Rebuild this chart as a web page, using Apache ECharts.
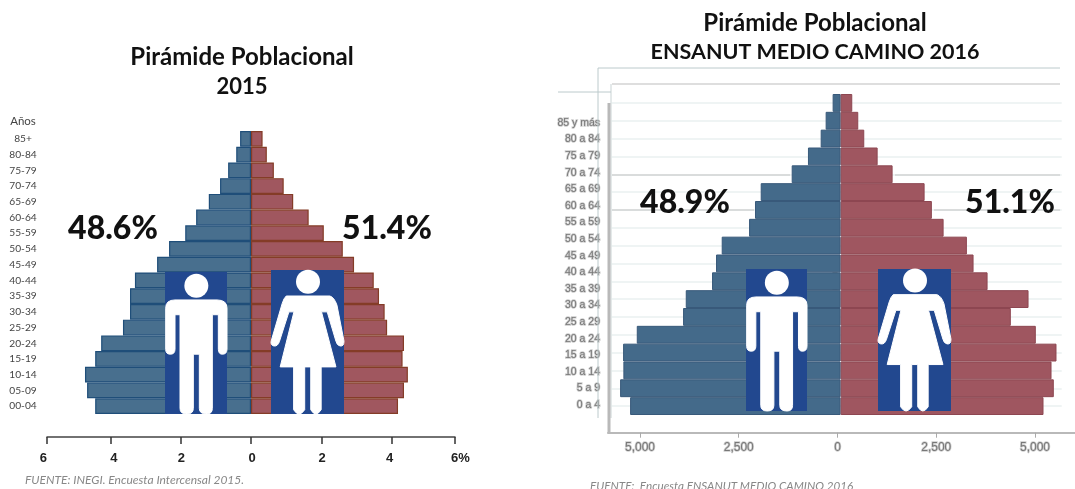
<!DOCTYPE html>
<html>
<head>
<meta charset="utf-8">
<style>
  html, body { margin: 0; padding: 0; background: #fff; }
  #chart { width: 1075px; height: 489px; }
</style>
</head>
<body>
<div id="chart"></div>
<script src="https://cdn.jsdelivr.net/npm/echarts@6/dist/echarts.min.js"></script>
<script>
// 2015 (INEGI), percent of population
const ages2015 = ["85+", "80-84", "75-79", "70-74", "65-69", "60-64", "55-59", "50-54", "45-49", "40-44", "35-39", "30-34", "25-29", "20-24", "15-19", "10-14", "05-09", "00-04"];
const men2015 = [0.31, 0.42, 0.65, 0.88, 1.2, 1.56, 1.87, 2.33, 2.67, 3.3, 3.44, 3.44, 3.64, 4.26, 4.43, 4.72, 4.66, 4.43];
const women2015 = [0.33, 0.45, 0.65, 0.93, 1.2, 1.64, 2.07, 2.61, 2.93, 3.49, 3.64, 3.8, 3.87, 4.35, 4.31, 4.46, 4.35, 4.18];
const ticks2015 = [-5.8, -4, -2, 0, 2, 4, 5.8];
const labelSpots2015 = [-5.8, -3.9, -1.98, 0.03, 2.02, 3.94, 5.8];
// the spaces push the end labels outwards, they sit off their ticks in the picture
const tickLabels2015 = ["6  ", "4", "2", "0", "2", "4", "   6%"];

// 2016 (ENSANUT)
const ages2016 = ["85 y más", "80 a 84", "75 a 79", "70 a 74", "65 a 69", "60 a 64", "55 a 59", "50 a 54", "45 a 49", "40 a 44", "35 a 39", "30 a 34", "25 a 29", "20 a 24", "15 a 19", "10 a 14", "5 a 9", "0 a 4"];
const men2016 = [203, 380, 506, 828, 1240, 2025, 2170, 2320, 3013, 3157, 3258, 3924, 3992, 5165, 5511, 5504, 5587, 5334];
const women2016 = [294, 446, 598, 937, 1316, 2127, 2311, 2608, 3198, 3367, 3722, 4760, 4311, 4944, 5468, 5342, 5400, 5139];
const ticks2016 = [-5000, -2500, 0, 2500, 5000];

const font = "Lato";
const man = "M2,110Q2,85 30,85L156,85Q186,85 186,110L186,235Q186,250 172,250Q160,250 160,235L160,130L142,130L142,415Q142,432 125,432Q103,432 103,415L103,250L85,250L85,415Q85,432 65,432Q45,432 45,415L45,130L30,130L30,235Q30,250 16,250Q2,250 2,235Z";
const woman = "M47,78L177,78Q190,82 198,105L219,212Q219,228 207,226Q198,224 195,212L169,125L152,125L195,288L151,288L151,415Q135,440 120,415L120,288L102,288L102,415Q85,440 69,415L69,288L29,288L70,125L55,125L27,212Q22,228 10,226Q0,224 2,212L35,100Q40,84 47,78Z";
const manBox = [186, 94, 42, 2, 85];
const womanBox = [219, 111, 35, 0, 78];

// x, y, w, h, path, box (box numbers are in the path's own units)
const people = [
  [165, 272, 62, 142, man, manBox],
  [271, 270, 73, 144, woman, womanBox],
  [746, 269, 61, 142, man, manBox],
  [878, 269, 73, 142, woman, womanBox],
];

// blue box with a white figure
function person(params) {
  const [x, y, w, h, d, box] = people[params.dataIndex];
  const sx = w / box[0];
  const sy = h / 432;
  return {
    type: "group",
    children: [
      { type: "rect", shape: { x: x, y: y, width: w, height: h }, style: { fill: "#22488f" } },
      { type: "circle", shape: { cx: x + box[1] * sx, cy: y + box[2] * sy, r: 12 }, style: { fill: "#fff" } },
      {
        type: "path",
        shape: { pathData: d, layout: "cover", x: x + box[3] * sx, y: y + box[4] * sy, width: (box[0] - box[3]) * sx, height: (432 - box[4]) * sy },
        style: { fill: "#fff", stroke: "#fff", lineWidth: 1 },
      },
    ],
  };
}

function text(x, y, str, size, extra) {
  return {
    type: "text", z: 30, x: x, y: y,
    style: Object.assign({ text: str, font: "bold " + size + "px " + font, fill: "#111", textAlign: "center", textVerticalAlign: "middle" }, extra || {}),
  };
}

function rule(x1, y1, x2, y2, color, width) {
  return { type: "line", z: 1, shape: { x1: x1, y1: y1, x2: x2, y2: y2 }, style: { stroke: color, lineWidth: width || 1 } };
}

const hazy = { color: "#777", textBorderColor: "#ccc", textBorderWidth: 1.5, fontFamily: "Liberation Sans" };
const heavy = { font: "900 32px " + font };

const chart = echarts.init(document.getElementById("chart"));
chart.setOption({
  backgroundColor: "#fff",
  animation: false,
  grid: [
    { left: 47, top: 131, width: 408, height: 283 },
    { left: 611.7, top: 94, width: 450, height: 321 },
    { left: 608, top: 114.7, width: 467, height: 298.6 },
  ],
  xAxis: [
    {
      gridIndex: 0, type: "value", min: -5.8, max: 5.8, offset: 23,
      splitLine: { show: false },
      axisLine: { show: true, lineStyle: { color: "#444", width: 1.5 } },
      axisTick: { show: true, length: 7, customValues: ticks2015, lineStyle: { color: "#333", width: 1.5 } },
      axisLabel: {
        customValues: labelSpots2015, margin: 15, showMinLabel: true, showMaxLabel: true,
        fontFamily: "Liberation Sans", fontWeight: "bold", fontSize: 13, color: "#222",
        formatter: (v) => tickLabels2015[labelSpots2015.indexOf(v)],
      },
    },
    {
      gridIndex: 1, type: "value", min: -5800, max: 5600, show: false,
    },
    {
      gridIndex: 2, type: "value", min: -5810, max: 6013, offset: 19.4,
      splitLine: { show: false },
      axisLine: { show: true, lineStyle: { color: "#b9b9b9", width: 2 } },
      axisTick: { show: true, length: 5, customValues: ticks2016, lineStyle: { color: "#aaa" } },
      axisLabel: {
        customValues: ticks2016, margin: 9, fontSize: 12, ...hazy,
        formatter: (v) => Math.abs(v).toLocaleString("en-US"),
      },
    },
  ],
  yAxis: [
    {
      gridIndex: 0, type: "category", inverse: true, data: ages2015,
      axisLine: { show: false }, axisTick: { show: false },
      axisLabel: { align: "center", margin: 24, fontFamily: font, fontSize: 10.2, color: "#444", interval: 0 },
    },
    {
      gridIndex: 1, type: "category", inverse: true, data: ages2016,
      axisLine: { show: false }, axisTick: { show: false }, axisLabel: { show: false },
      splitLine: { show: true, alignWithLabel: true, lineStyle: { color: "#eff4f4", width: 2 } },
    },
    {
      gridIndex: 2, type: "category", inverse: true, data: ages2016,
      axisLine: { show: false },
      axisTick: { show: true, alignWithLabel: true, length: 5, lineStyle: { color: "#aaa" } },
      axisLabel: { margin: 8, fontSize: 10.5, interval: 0, ...hazy },
    },
  ],
  series: [
    {
      name: "Hombres 2015", type: "bar", xAxisIndex: 0, yAxisIndex: 0, barWidth: "100%", barGap: "-100%",
      data: men2015.map((v) => -v),
      itemStyle: { color: "#486f8e", borderColor: "#1f4e79", borderWidth: 1.2 },
    },
    {
      name: "Mujeres 2015", type: "bar", xAxisIndex: 0, yAxisIndex: 0, barWidth: "100%", barGap: "-100%",
      data: women2015,
      itemStyle: { color: "#a0575f", borderColor: "#843c27", borderWidth: 1.2 },
    },
    {
      name: "Hombres 2016", type: "bar", xAxisIndex: 1, yAxisIndex: 1, barWidth: "100%", barGap: "-100%",
      data: men2016.map((v) => -v),
      itemStyle: { color: "#446a8a", borderColor: "#38597a", borderWidth: 1 },
    },
    {
      name: "Mujeres 2016", type: "bar", xAxisIndex: 1, yAxisIndex: 1, barWidth: "100%", barGap: "-100%",
      data: women2016,
      itemStyle: { color: "#9f5660", borderColor: "#8d4651", borderWidth: 1 },
    },
    {
      name: "Figuras", type: "custom", coordinateSystem: "none", z: 20, silent: true,
      data: people.map((p, i) => i),
      renderItem: person,
    },
  ],
  graphic: [
    text(242, 57, "Pirámide Poblacional", 24),
    text(242, 87, "2015", 22),
    text(815, 23, "Pirámide Poblacional", 24),
    text(815, 52, "ENSANUT MEDIO CAMINO 2016", 21.5),
    text(113, 229, "48.6%", 32, heavy),
    text(387, 229, "51.4%", 32, heavy),
    text(685, 203, "48.9%", 32, heavy),
    text(1010, 203, "51.1%", 32, heavy),
    text(23, 121, "Años", 11.5, { font: "11.5px " + font, fill: "#444" }),
    text(25, 480, "FUENTE: INEGI. Encuesta Intercensal 2015.", 12, { font: "italic 12px " + font, fill: "#888", textAlign: "left" }),
    text(590, 486, "FUENTE:  Encuesta ENSANUT MEDIO CAMINO 2016", 11.7, { font: "italic 11.7px " + font, fill: "#888", textAlign: "left" }),

    // frame lines left over in the 2016 picture
    rule(598, 68, 1060, 68, "#bccacc"),
    rule(598, 68, 598, 418, "#bccacc"),
    rule(612, 84, 1060, 84, "#dedede", 2),
    rule(611, 84, 611, 418, "#c9d3d4"),
    rule(558, 92, 611, 92, "#bccacc"),
    rule(609, 103, 609, 433, "#b9b9b9", 3),
    rule(612, 175, 790, 175, "#c4c4c4"),
    rule(895, 175, 1060, 175, "#c4c4c4"),
    rule(612, 210, 754, 210, "#c4c4c4"),
    rule(934, 210, 1060, 210, "#c4c4c4"),
  ],
});
</script>
</body>
</html>
